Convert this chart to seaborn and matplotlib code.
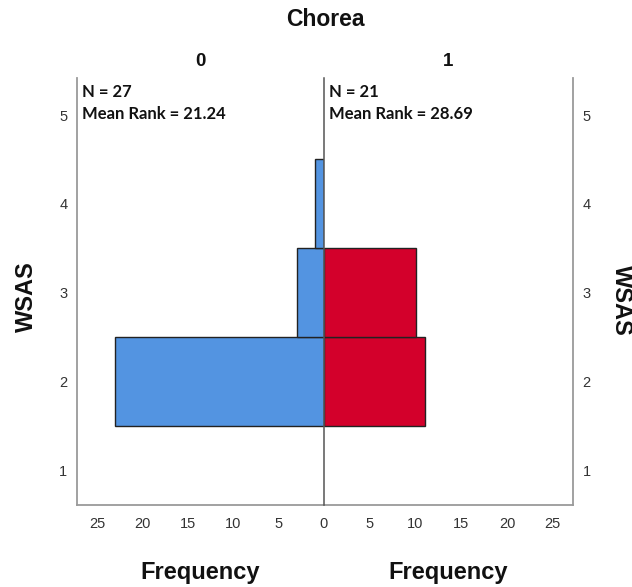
import matplotlib
matplotlib.use("Agg")
import matplotlib.pyplot as plt
import seaborn as sns

# ---------------------------------------------------------------------------
# Data
# ---------------------------------------------------------------------------
group_labels = ["0", "1"]
wsas_group0 = [2, 3, 4]
freq_group0 = [23, 3, 1]
wsas_group1 = [2, 3]
freq_group1 = [11, 10]
n_group = [27, 21]
mean_rank = [21.24, 28.69]

y_ticks = [1, 2, 3, 4, 5]
x_ticks_left = [5, 10, 15, 20, 25]
x_ticks_right = [0, 5, 10, 15, 20, 25]

BLUE = "#5394e1"
RED = "#d3002b"
EDGE = "#222222"
SPINE = "#9a9a9a"
CENTER = "#555555"
TICK_TXT = "#333333"

sns.set_theme(style="white")
plt.rcParams["font.family"] = ["Liberation Sans", "DejaVu Sans"]

W, H = 632, 587
fig = plt.figure(figsize=(W / 100, H / 100), dpi=100)
fig.patch.set_facecolor("white")

bottom = 1 - 505 / H
height = 427 / H
ax_l = fig.add_axes([77 / W, bottom, 247 / W, height])
ax_r = fig.add_axes([324 / W, bottom, 249 / W, height])

sns.barplot(x=freq_group0, y=wsas_group0, orient="h", native_scale=True,
            width=1, color=BLUE, saturation=1, edgecolor=EDGE, linewidth=1,
            errorbar=None, ax=ax_l)
sns.barplot(x=freq_group1, y=wsas_group1, orient="h", native_scale=True,
            width=1, color=RED, saturation=1, edgecolor=EDGE, linewidth=1,
            errorbar=None, ax=ax_r)

xmax = 27.2
ylim = (0.606, 5.417)
ax_l.set_xlim(xmax, 0)
ax_r.set_xlim(0, xmax)

for ax in (ax_l, ax_r):
    ax.set_ylim(*ylim)
    ax.set_yticks(y_ticks)
    ax.set_yticklabels([str(t) for t in y_ticks])
    ax.set_xlabel("")
    ax.set_ylabel("")
    ax.patch.set_alpha(0)
    ax.spines["top"].set_visible(False)
    ax.spines["bottom"].set_color(SPINE)
    ax.spines["bottom"].set_linewidth(1.3)
    ax.tick_params(length=0, labelsize=10.5, labelcolor=TICK_TXT)
    ax.tick_params(axis="x", pad=9)
    ax.tick_params(axis="y", pad=7)

ax_l.set_xticks(x_ticks_left)
ax_r.set_xticks(x_ticks_right)

ax_l.spines["left"].set_color(SPINE)
ax_l.spines["left"].set_linewidth(1.3)
ax_l.spines["right"].set_visible(False)

# centre line at frequency 0, drawn over the bars
ax_r.spines["left"].set_color(CENTER)
ax_r.spines["left"].set_linewidth(1.1)
ax_r.spines["left"].set_zorder(5)
ax_r.spines["right"].set_color(SPINE)
ax_r.spines["right"].set_linewidth(1.3)
ax_r.yaxis.tick_right()

# N / Mean Rank annotations
for ax, n, mr in ((ax_l, n_group[0], mean_rank[0]), (ax_r, n_group[1], mean_rank[1])):
    ax.text(0.02, 0.985, f"N = {n}\nMean Rank = {mr:.2f}", transform=ax.transAxes,
            ha="left", va="top", fontsize=12, fontweight="bold",
            family=["Lato", "DejaVu Sans"], linespacing=1.45, color="#111111")

# Titles and labels
fig.text(325 / W, 1 - 19 / H, "Chorea", ha="center", va="center",
         fontsize=16.5, fontweight="bold", color="#111111")
fig.text(200 / W, 1 - 62 / H, group_labels[0], ha="center", va="center",
         fontsize=13.5, fontweight="bold", color="#111111")
fig.text(448 / W, 1 - 62 / H, group_labels[1], ha="center", va="center",
         fontsize=13.5, fontweight="bold", color="#111111")

fig.text(200 / W, 1 - 573 / H, "Frequency", ha="center", va="center",
         fontsize=17, fontweight="bold", color="#111111")
fig.text(448 / W, 1 - 573 / H, "Frequency", ha="center", va="center",
         fontsize=17, fontweight="bold", color="#111111")

fig.text(26 / W, 1 - 297 / H, "WSAS", ha="center", va="center", rotation=90,
         fontsize=17, fontweight="bold", color="#111111")
fig.text(621 / W, 1 - 300 / H, "WSAS", ha="center", va="center", rotation=270,
         fontsize=17, fontweight="bold", color="#111111")

fig.savefig("out.png", dpi=100, facecolor="white")
